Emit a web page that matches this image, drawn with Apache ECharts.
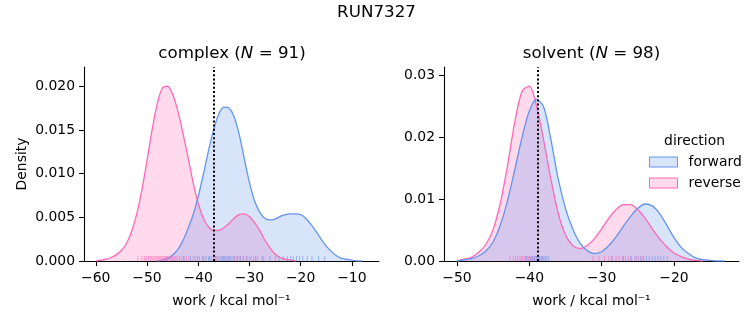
<!DOCTYPE html>
<html><head><meta charset="utf-8">
<script src="https://cdn.jsdelivr.net/npm/echarts@6/dist/echarts.min.js"></script>
<style>html,body{margin:0;padding:0;background:#fff}#c{width:753px;height:325px}</style>
</head><body><div id="c"></div>
<script>
// ---- data ----
const complexX = [-60,-59,-58,-57,-56,-55,-54,-53,-52,-51,-50,-49,-48,-47,-46,-45,-44,-43,-42,-41,-40,-39,-38,-37,-36,-35,-34,-33,-32,-31,-30,-29,-28,-27,-26,-25,-24,-23,-22,-21,-20,-19,-18,-17,-16,-15,-14,-13,-12,-11,-10,-9,-8];
const complexReverse = [0.0000,0.0001,0.0002,0.0004,0.0007,0.0012,0.0020,0.0034,0.0054,0.0081,0.0115,0.0150,0.0180,0.0198,0.0200,0.0191,0.0172,0.0147,0.0119,0.0090,0.0066,0.0049,0.0039,0.0035,0.0035,0.0038,0.0043,0.0049,0.0053,0.0054,0.0051,0.0044,0.0035,0.0024,0.0015,0.0008,0.0004,0.0002,0.0001,0.0000,null,null,null,null,null,null,null,null,null,null,null,null,null];
const complexForward = [null,null,null,null,null,null,null,null,null,null,null,null,0.0000,0.0001,0.0003,0.0007,0.0013,0.0023,0.0037,0.0053,0.0074,0.0099,0.0126,0.0150,0.0168,0.0176,0.0175,0.0165,0.0145,0.0117,0.0090,0.0069,0.0056,0.0049,0.0047,0.0048,0.0051,0.0053,0.0054,0.0054,0.0053,0.0049,0.0042,0.0034,0.0025,0.0017,0.0011,0.0006,0.0003,0.0002,0.0001,0.0000,0.0000];
const solventX = [-51,-50,-49,-48,-47,-46,-45,-44,-43,-42,-41,-40,-39,-38,-37,-36,-35,-34,-33,-32,-31,-30,-29,-28,-27,-26,-25,-24,-23,-22,-21,-20,-19,-18,-17,-16,-15,-14,-13,-12];
const solventReverse = [null,0.0000,0.0003,0.0006,0.0014,0.0027,0.0051,0.0094,0.0155,0.0225,0.0274,0.0282,0.0250,0.0194,0.0131,0.0077,0.0042,0.0025,0.0020,0.0025,0.0036,0.0052,0.0069,0.0083,0.0091,0.0091,0.0083,0.0069,0.0052,0.0036,0.0023,0.0013,0.0007,0.0003,0.0001,0.0000,null,null,null,null];
const solventForward = [null,0.0000,0.0002,0.0004,0.0008,0.0016,0.0031,0.0058,0.0098,0.0148,0.0200,0.0242,0.0261,0.0248,0.0195,0.0132,0.0085,0.0052,0.0029,0.0017,0.0012,0.0015,0.0025,0.0039,0.0056,0.0072,0.0085,0.0092,0.0089,0.0077,0.0058,0.0038,0.0022,0.0012,0.0005,0.0002,0.0001,0.0000,0.0000,null];
const complexReverseRug = [-51.8,-51.0,-50.5,-50.1,-49.7,-49.3,-49.0,-48.7,-48.4,-48.1,-47.8,-47.6,-47.3,-47.1,-46.9,-46.6,-46.4,-46.2,-46.0,-45.7,-45.5,-45.2,-45.0,-44.7,-44.4,-44.1,-43.7,-43.3,-42.8,-42.3,-41.8,-41.0,-40.2,-39.0,-37.8,-36.5,-35.0,-33.9,-33.0,-32.4,-31.8,-31.2,-30.6,-30.0,-29.2,-28.4,-27.2];
const complexForwardRug = [-42.8,-41.5,-40.6,-39.8,-39.1,-38.5,-38.0,-37.5,-37.0,-36.6,-36.2,-35.8,-35.5,-35.2,-34.9,-34.6,-34.3,-34.0,-33.6,-33.2,-32.8,-32.3,-31.8,-31.2,-30.5,-29.7,-28.8,-27.5,-26.0,-24.9,-24.2,-23.4,-22.6,-21.9,-21.4,-20.8,-20.2,-19.6,-18.7,-17.8,-16.5,-15.3];
const solventReverseRug = [-42.7,-42.2,-41.9,-41.6,-41.3,-41.1,-40.9,-40.7,-40.5,-40.3,-40.1,-39.9,-39.7,-39.5,-39.3,-39.1,-38.9,-38.6,-38.2,-31.2,-30.4,-29.6,-29.0,-28.5,-28.0,-27.6,-27.1,-26.7,-26.3,-25.9,-25.4,-24.9,-24.4];
const solventForwardRug = [-40.4,-39.9,-39.6,-39.3,-39.0,-38.8,-38.6,-38.4,-38.2,-38.0,-37.8,-37.6,-37.3,-28.6,-27.0,-26.0,-25.2,-24.6,-24.2,-23.8,-23.4,-23.0,-22.6,-22.2,-21.8,-21.4,-20.9];
const complexXTicks = [-60,-50,-40,-30,-20,-10];
const complexYTicks = [0,0.005,0.010,0.015,0.020];
const solventXTicks = [-50,-40,-30,-20];
const solventYTicks = [0,0.01,0.02,0.03];
const complexMarker = -37.0;
const solventMarker = -38.9;

// ---- style ----
const FONT = 'DejaVu Sans';
const BLUE = '#6495ED', PINK = '#FF69B4';
const zip = (xs, ys) => xs.map((x, i) => [x, ys[i]]);
const minus = s => String(s).replace('-', '\u2212');

function xAxis(grid, min, max, ticks) {
  return {
    type: 'value', gridIndex: grid, min, max,
    name: 'work / kcal mol\u207B\u00B9', nameLocation: 'middle', nameGap: 33,
    nameTextStyle: {fontFamily: FONT, fontSize: 13.9, color: '#000'},
    axisLine: {show: true, onZero: false, lineStyle: {color: '#000', width: 1.1}},
    axisTick: {show: true, length: 5, lineStyle: {color: '#000', width: 1.1}, customValues: ticks},
    axisLabel: {show: true, margin: 10, fontFamily: FONT, fontSize: 13.9, color: '#000', customValues: ticks, formatter: v => minus(v)},
    splitLine: {show: false}
  };
}
function yAxis(grid, max, ticks, digits, name) {
  return {
    type: 'value', gridIndex: grid, min: 0, max,
    name: name, nameLocation: 'middle', nameGap: 55,
    nameTextStyle: {fontFamily: FONT, fontSize: 13.9, color: '#000'},
    axisLine: {show: true, lineStyle: {color: '#000', width: 1.1}},
    axisTick: {show: true, length: 5, lineStyle: {color: '#000', width: 1.1}, customValues: ticks},
    axisLabel: {show: true, margin: 9, fontFamily: FONT, fontSize: 13.9, color: '#000', customValues: ticks, formatter: v => v.toFixed(digits)},
    splitLine: {show: false}
  };
}
function kde(name, grid, xs, ys, color, marker) {
  const s = {
    name, type: 'line', xAxisIndex: grid, yAxisIndex: grid,
    data: zip(xs, ys), showSymbol: false, symbol: 'none',
    smooth: 0.3, connectNulls: false,
    lineStyle: {color, width: 1.3}, itemStyle: {color},
    areaStyle: {color, opacity: 0.25}, silent: true
  };
  if (marker !== undefined) {
    s.markLine = {silent: true, symbol: ['none', 'none'], label: {show: false},
      lineStyle: {color: '#000', type: [2, 2.2], width: 2},
      data: [{xAxis: marker}]};
  }
  return s;
}
function rug(name, grid, vals, color) {
  return {
    name, type: 'scatter', xAxisIndex: grid, yAxisIndex: grid,
    data: vals.map(v => [v, 0]), symbol: 'rect', symbolSize: [1.1, 5], symbolOffset: [0, -2.5],
    itemStyle: {color, opacity: 0.55}, silent: true, z: 3
  };
}

const chart = echarts.init(document.getElementById('c'), null, {renderer: 'canvas'});
chart.setOption({
  animation: false,
  backgroundColor: '#fff',
  grid: [
    {left: 84, top: 67, width: 295, height: 194},
    {left: 444, top: 67, width: 295, height: 194}
  ],
  xAxis: [xAxis(0, -62.3, -4.7, complexXTicks), xAxis(1, -51.8, -11.0, solventXTicks)],
  yAxis: [yAxis(0, 0.0222, complexYTicks, 3, 'Density'), yAxis(1, 0.0313, solventYTicks, 2, '')],
  legend: {
    orient: 'vertical', left: 649, top: 155, padding: 0, icon: 'rect', itemWidth: 28, itemHeight: 10, itemGap: 7,
    textStyle: {fontFamily: FONT, fontSize: 13.9, color: '#000', padding: [0, 0, 0, 6]},
    data: [
      {name: 'forward', itemStyle: {color: 'rgba(100,149,237,0.25)', borderColor: BLUE, borderWidth: 1}},
      {name: 'reverse', itemStyle: {color: 'rgba(255,105,180,0.25)', borderColor: PINK, borderWidth: 1}}
    ],
    selectedMode: false
  },
  graphic: [
    {type: 'text', x: 376.5, y: 13, style: {text: 'RUN7327', fill: '#000', font: '16.7px "DejaVu Sans"', align: 'center', verticalAlign: 'middle'}},
    {type: 'text', x: 232, y: 54, style: {text: 'complex ({i|N} = 91)', fill: '#000', font: '16.7px "DejaVu Sans"', align: 'center', verticalAlign: 'middle',
      rich: {i: {fontStyle: 'italic', fontFamily: FONT, fontSize: 16.7, fill: '#000'}}}},
    {type: 'text', x: 591.5, y: 54, style: {text: 'solvent ({i|N} = 98)', fill: '#000', font: '16.7px "DejaVu Sans"', align: 'center', verticalAlign: 'middle',
      rich: {i: {fontStyle: 'italic', fontFamily: FONT, fontSize: 16.7, fill: '#000'}}}},
    {type: 'text', x: 694.5, y: 141, style: {text: 'direction', fill: '#000', font: '13.9px "DejaVu Sans"', align: 'center', verticalAlign: 'middle'}}
  ],
  series: [
    kde('reverse', 0, complexX, complexReverse, PINK),
    kde('forward', 0, complexX, complexForward, BLUE, complexMarker),
    rug('reverse', 0, complexReverseRug, PINK),
    rug('forward', 0, complexForwardRug, BLUE),
    kde('reverse', 1, solventX, solventReverse, PINK),
    kde('forward', 1, solventX, solventForward, BLUE, solventMarker),
    rug('reverse', 1, solventReverseRug, PINK),
    rug('forward', 1, solventForwardRug, BLUE)
  ]
});
</script></body></html>
